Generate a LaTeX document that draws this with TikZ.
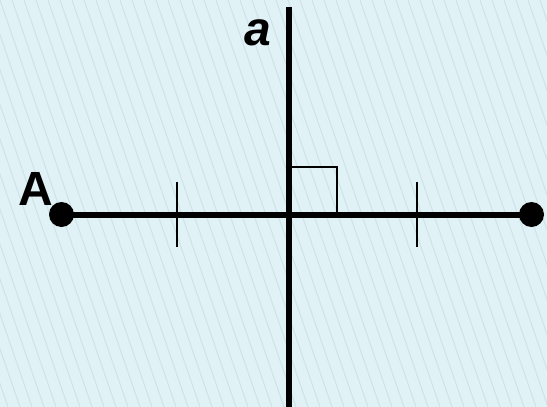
\documentclass[tikz,border=0pt]{standalone}
\usepackage{fontspec}
\setmainfont{Liberation Sans}
\definecolor{bgblue}{HTML}{E0F2F6}
\definecolor{hatchblue}{HTML}{CEE2E8}
\tikzset{
  axisline/.style={line width=6pt, black},
  thinline/.style={line width=2pt, black},
  dotnode/.style={circle, fill=black, minimum size=25pt, inner sep=0pt},
  hatchline/.style={line width=1pt, hatchblue},
  lbl/.style={inner sep=0pt, font=\fontsize{48}{58}\selectfont\bfseries}
}
\begin{document}
\begin{tikzpicture}[x=1pt,y=-1pt]
  \fill[bgblue] (0,0) rectangle (547,407);
  \useasboundingbox (0,0) rectangle (547,407);
  \begin{scope}
    \clip (0,0) rectangle (547,407);
    \foreach \i in {-14,...,46} {
      \draw[hatchline] (\i*12,0) -- ++(140,407);
    }
  \end{scope}
  % coordinates
  \coordinate (vtop) at (289,7);
  \coordinate (vbot) at (289,410);
  \coordinate (t1a) at (177,182);
  \coordinate (t1b) at (177,247);
  \coordinate (t2a) at (417,182);
  \coordinate (t2b) at (417,247);
  \coordinate (r1) at (289,167);
  \coordinate (r2) at (337,167);
  \coordinate (r3) at (337,214.5);
  % dots
  \node[dotnode] (A) at (61.5,214.5) {};
  \node[dotnode] (B) at (531.5,214.5) {};
  % lines
  \draw[axisline] (A.center) -- (B.center);
  \draw[axisline] (vtop) -- (vbot);
  \draw[thinline] (t1a) -- (t1b);
  \draw[thinline] (t2a) -- (t2b);
  \draw[thinline, line join=miter] (r1) -- (r2) -- (r3);
  % labels
  \node[lbl, anchor=base] (labA) at (35.5,205) {A};
  \node[lbl, anchor=base] (laba) at (258,45) {\itshape a};
\end{tikzpicture}
\end{document}
